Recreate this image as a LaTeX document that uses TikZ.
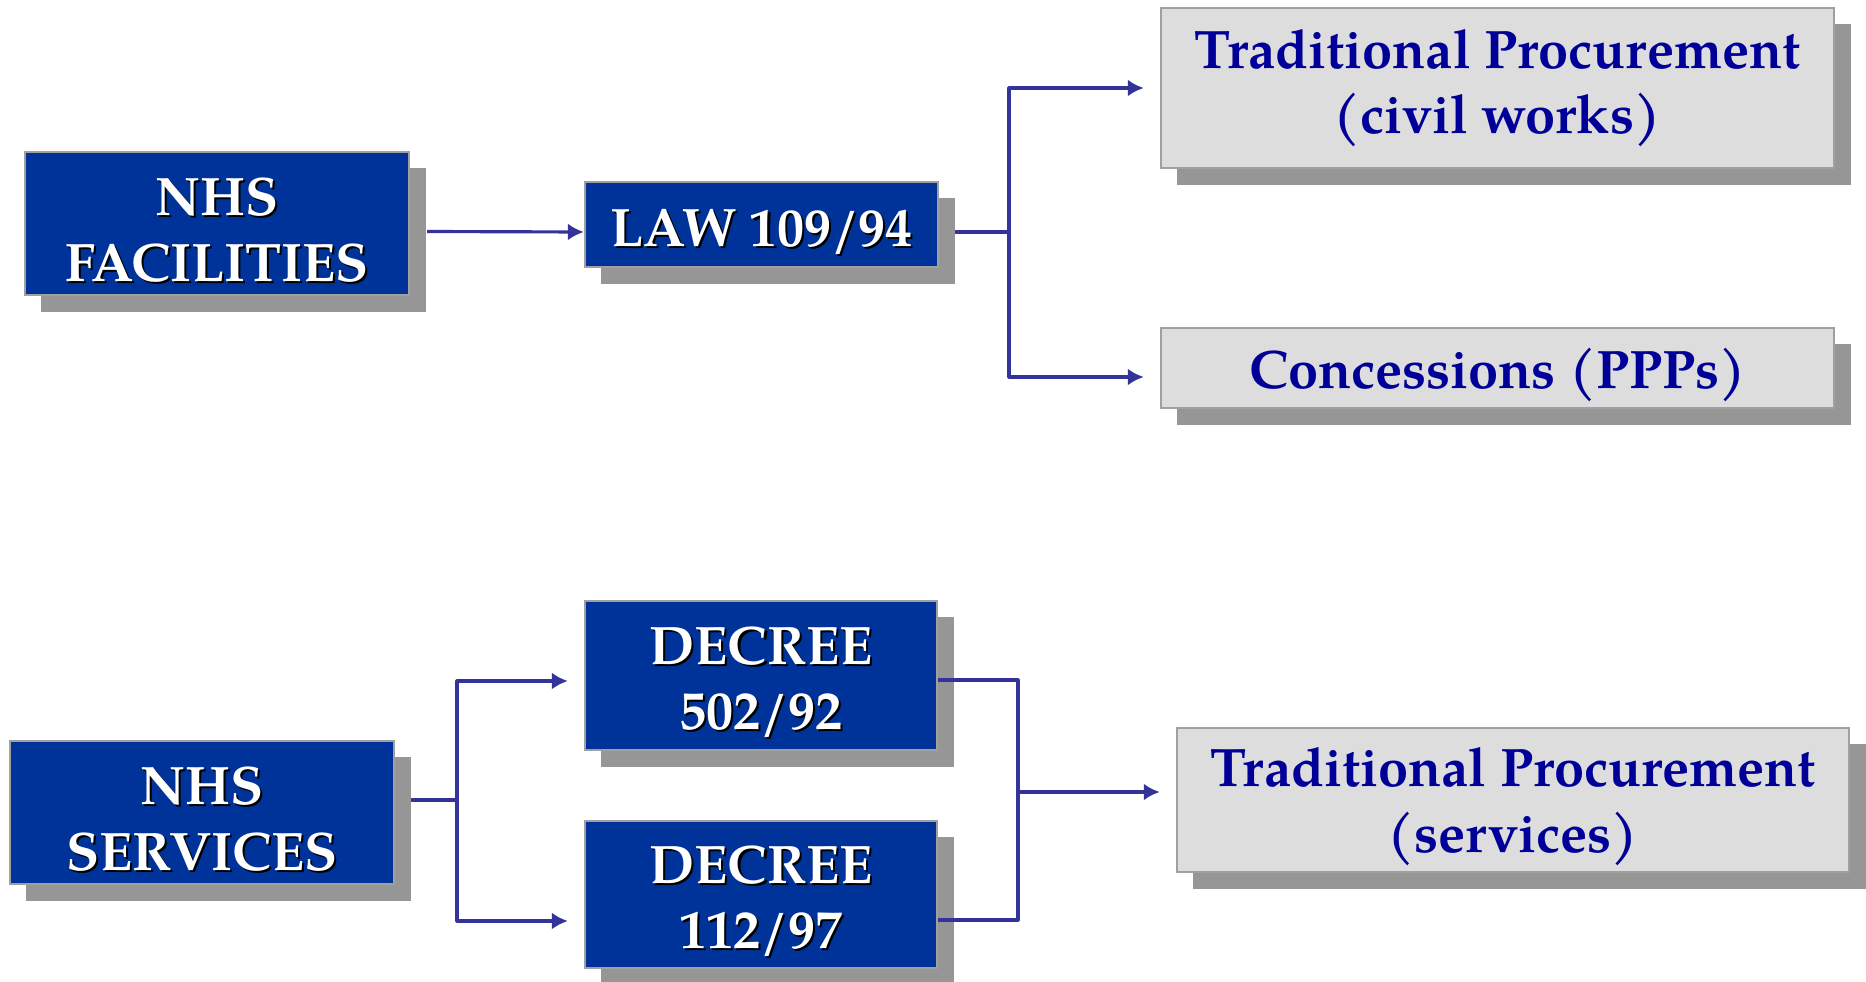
\documentclass[tikz,border=0pt]{standalone}
\usepackage{fontspec}
\setmainfont{TeX Gyre Pagella}
\usetikzlibrary{shapes,arrows,arrows.meta,calc,shadows}

\definecolor{boxblue}{RGB}{0,51,153}
\definecolor{boxgray}{RGB}{221,221,221}
\definecolor{shadegray}{RGB}{150,150,150}
\definecolor{rimgray}{RGB}{160,160,160}
\definecolor{linkblue}{RGB}{51,51,153}
\definecolor{textblue}{RGB}{0,0,153}

\newcommand{\emb}[1]{\leavevmode\rlap{\hspace{0.6pt}\raisebox{-0.6pt}{\color{black}#1}}#1}
\newcommand{\strutup}{\rule{0pt}{15.5pt}}
\newcommand{\strutdeep}{\rule{0pt}{15pt}}

\tikzset{
  lawbox/.style={draw=rimgray, line width=0.6pt, fill=boxblue, text=white, align=center, inner sep=0pt,
    execute at begin node=\strutup,
    drop shadow={shadow xshift=0.165cm, shadow yshift=-0.165cm, fill=shadegray, opacity=1}},
  routebox/.style={draw=rimgray, line width=0.6pt, fill=boxgray, text=textblue, align=center, inner sep=0pt,
    execute at begin node=\strutup,
    drop shadow={shadow xshift=0.165cm, shadow yshift=-0.165cm, fill=shadegray, opacity=1}},
  conn/.style={draw=linkblue, line width=0.9pt, line join=round},
}

\begin{document}
\begin{tikzpicture}[x=0.01cm, y=-0.01cm, >={Latex[length=0.16cm, width=0.17cm]}, font=\fontsize{15.4}{18.6}\selectfont\bfseries]
\useasboundingbox (0,0) rectangle (1866,982);

% facilities
\node [lawbox, minimum width=3.84cm, minimum height=1.43cm] at (217, 223.5) (nhsfac) {\strutdeep\emb{NHS}\\\emb{FACILITIES}};
\node [lawbox, minimum width=3.53cm, minimum height=0.85cm] at (761.5, 224.5) (law) {\emb{LAW 109/94}};
\node [routebox, minimum width=6.73cm, minimum height=1.60cm] at (1497.5, 88) (tpcivil) {Traditional Procurement\\(civil works)};
\node [routebox, minimum width=6.73cm, minimum height=0.80cm] at (1497.5, 368) (concess) {Concessions (PPPs)};

% services
\node [lawbox, minimum width=3.84cm, minimum height=1.43cm] at (202, 812.5) (nhsserv) {\strutdeep\emb{NHS}\\\emb{SERVICES}};
\node [lawbox, minimum width=3.52cm, minimum height=1.49cm] at (761, 675.5) (dec502) {\strutdeep\emb{DECREE}\\\emb{502/92}};
\node [lawbox, minimum width=3.52cm, minimum height=1.47cm] at (761, 894.5) (dec112) {\strutdeep\emb{DECREE}\\\emb{112/97}};
\node [routebox, minimum width=6.72cm, minimum height=1.44cm] at (1513, 800) (tpserv) {\strutdeep Traditional Procurement\\(services)};

\coordinate (lawfork) at (1009, 232);
\coordinate (servfork) at (457, 800);
\coordinate (decjoin) at (1018, 792);

\draw [->, conn] ($(nhsfac.east)+(17,8)$) -- ($(law.west)+(0,7.5)$);
\draw [conn] ($(law.east)+(16,7.5)$) -- (lawfork);
\draw [->, conn] (lawfork) |- ($(tpcivil.west)+(-16,0)$);
\draw [->, conn] (lawfork) |- ($(concess.west)+(-16,9)$);

\draw [conn] ($(nhsserv.east)+(16,-12.5)$) -- (servfork);
\draw [->, conn] (servfork) |- ($(dec502.west)+(-16,5.5)$);
\draw [->, conn] (servfork) |- ($(dec112.west)+(-16,26.5)$);

\draw [conn] ($(dec502.east)+(0,4.5)$) -| (decjoin);
\draw [conn] ($(dec112.east)+(0,25.5)$) -| (decjoin);
\draw [->, conn] (decjoin) -- ($(tpserv.west)+(-16,-8)$);

\end{tikzpicture}
\end{document}
